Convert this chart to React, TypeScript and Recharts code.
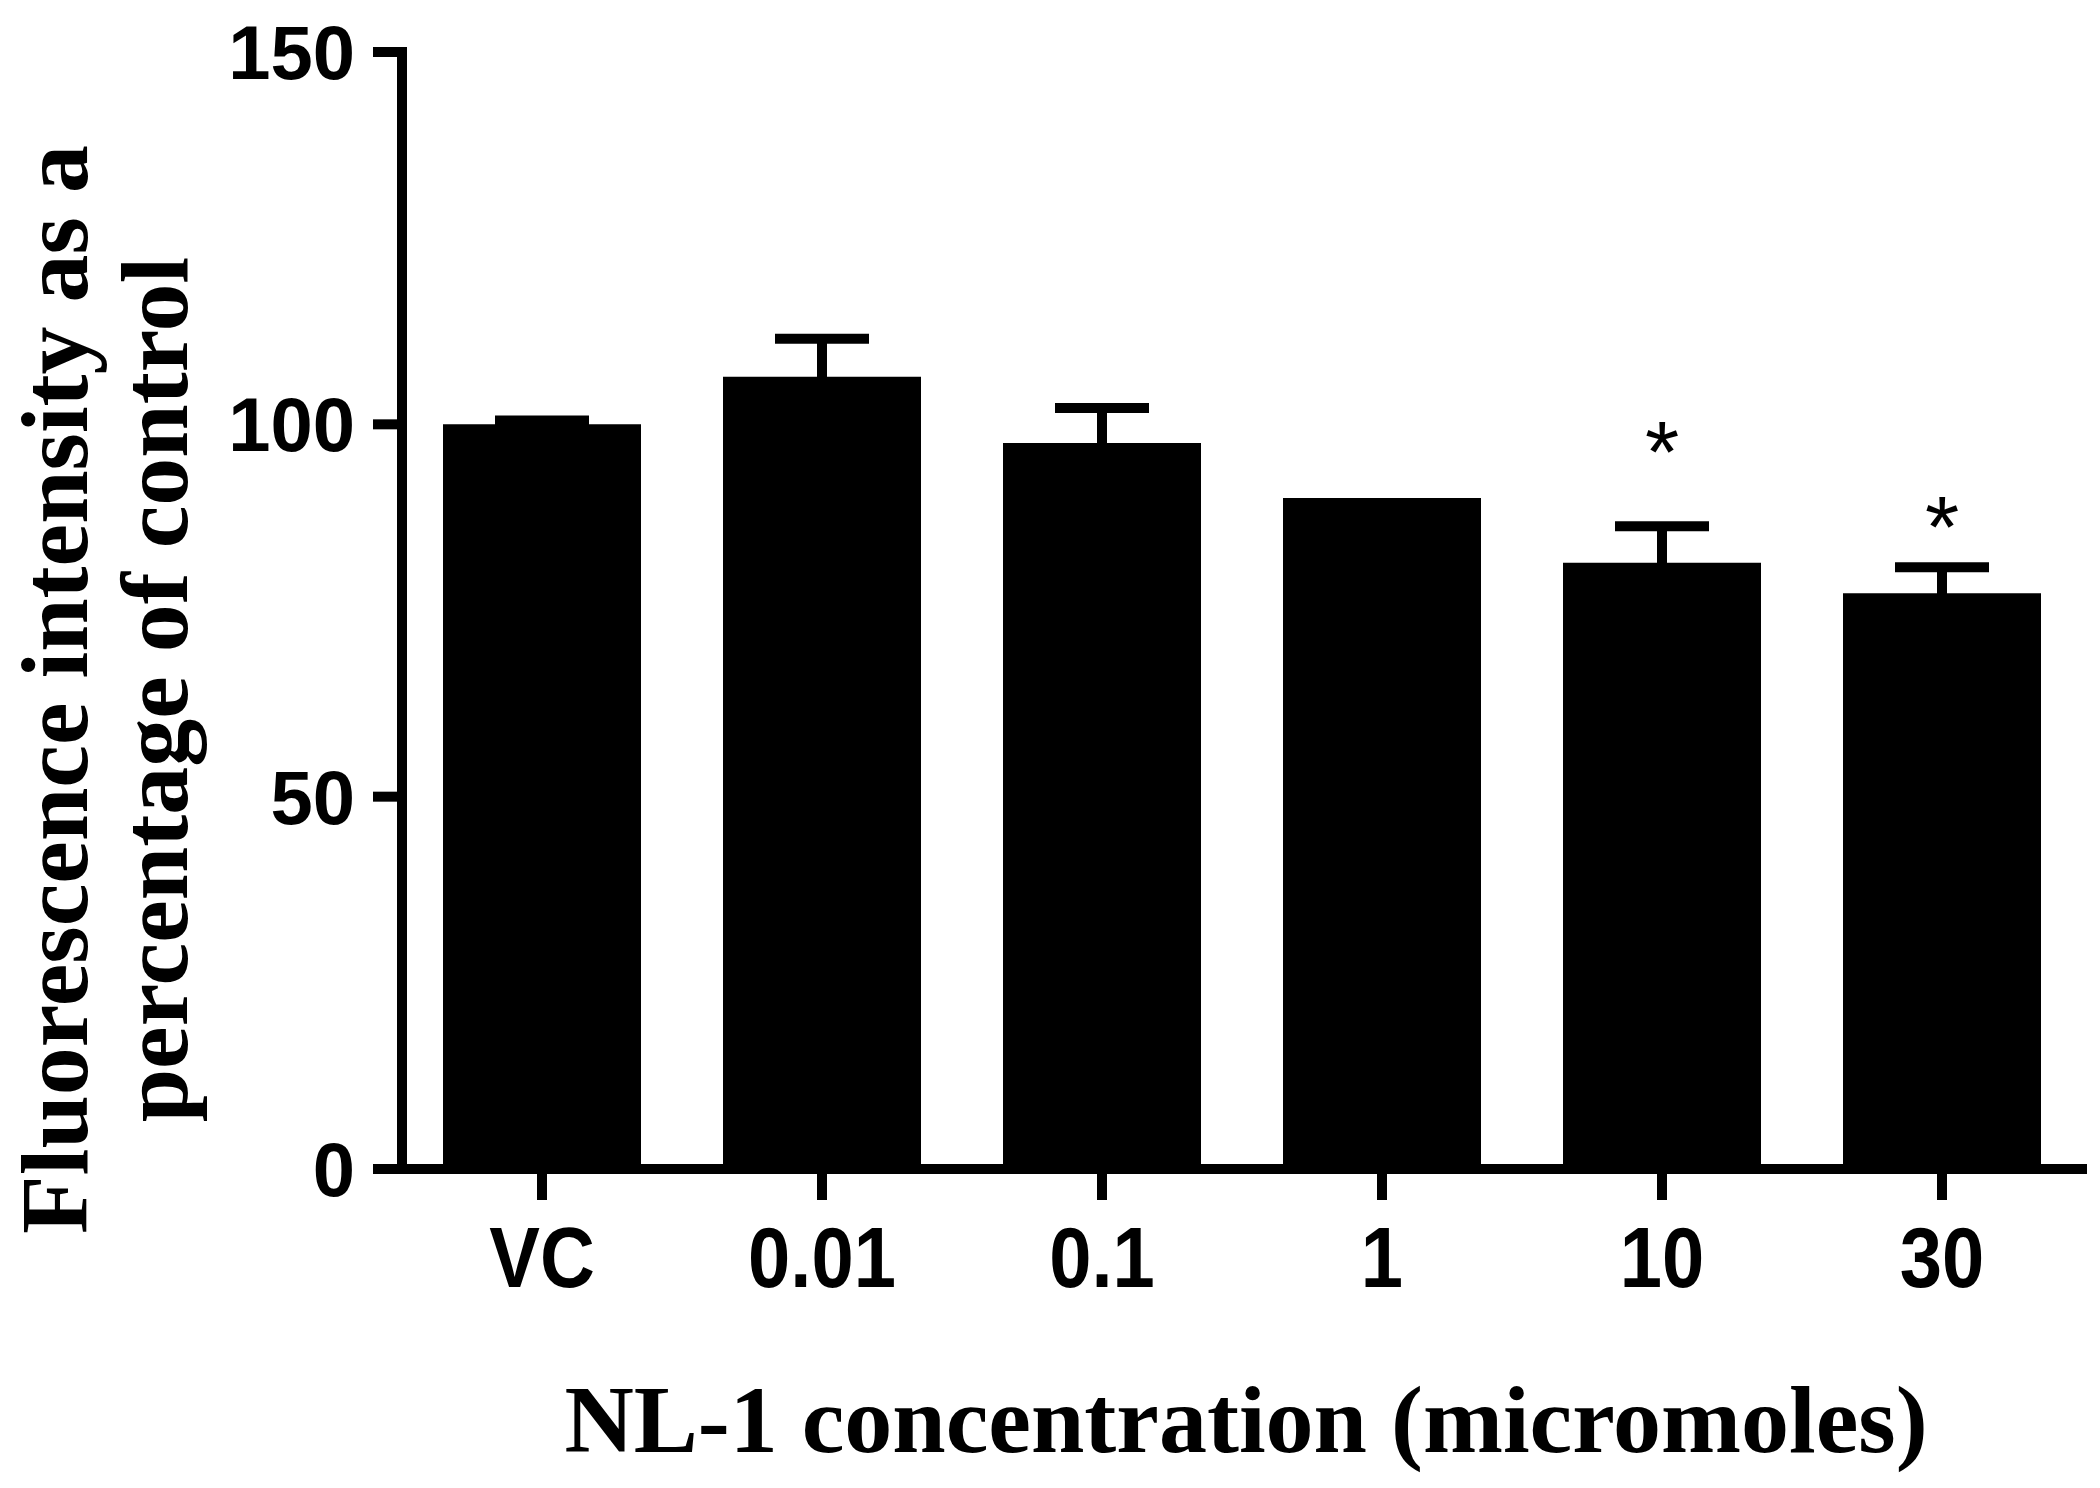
import { BarChart, Bar, XAxis, YAxis, ErrorBar, ReferenceDot, Label } from 'recharts';

/* -------------------------------------------------------------------------- */
/*  Data                                                                      */
/* -------------------------------------------------------------------------- */

const concentrations = ['VC', '0.01', '0.1', '1', '10', '30'];
const meanPercent = [100, 106.4, 97.5, 90.1, 81.4, 77.3];
const semPercent = [0.5, 5.1, 4.7, 0, 4.9, 3.5];
const yTicks = [0, 50, 100, 150];

// significance markers (asterisk height in axis units)
const starCategories = ['10', '30'];
const starLevels = [98.8, 88.8];

const rows = concentrations.map((c, i) => ({
  label: c,
  mean: meanPercent[i],
  err: semPercent[i],
}));

/* -------------------------------------------------------------------------- */
/*  Custom pieces                                                             */
/* -------------------------------------------------------------------------- */

const SANS = '"Liberation Sans", Arial, sans-serif';
const SERIF = '"Liberation Serif", "Times New Roman", serif';

function YTick({ x, y, payload }: any) {
  return (
    <text x={x} y={y + 27} textAnchor="end" fontFamily={SANS} fontWeight={700} fontSize={76} fill="#000">
      {payload.value}
    </text>
  );
}

function XTick({ x, y, payload }: any) {
  return (
    <g transform={`translate(${x},${y + 87}) scale(1,1.12)`}>
      <text x={0} y={0} textAnchor="middle" fontFamily={SANS} fontWeight={700} fontSize={76} fill="#000">
        {payload.value}
      </text>
    </g>
  );
}

function Star({ cx, cy }: any) {
  return (
    <text x={cx} y={cy + 49} textAnchor="middle" fontFamily={SANS} fontSize={88} fill="#000">
      *
    </text>
  );
}

function YTitle({ viewBox }: any) {
  const cy = viewBox.y + viewBox.height / 2 + 79;
  const x1 = viewBox.x + 87;
  const x2 = viewBox.x + 187;
  const common = { textAnchor: 'middle' as const, fontFamily: SERIF, fontWeight: 700, fontSize: 96, fill: '#000' };
  return (
    <g>
      <text {...common} x={x1} y={cy} transform={`rotate(-90, ${x1}, ${cy})`}>
        Fluorescence intensity as a
      </text>
      <text {...common} x={x2} y={cy} transform={`rotate(-90, ${x2}, ${cy})`}>
        percentage of control
      </text>
    </g>
  );
}

function XTitle({ viewBox }: any) {
  const cx = viewBox.x + viewBox.width / 2 + 4;
  const y = viewBox.y + 283;
  return (
    <text x={cx} y={y} textAnchor="middle" fontFamily={SERIF} fontWeight={700} fontSize={96} fill="#000">
      NL-1 concentration (micromoles)
    </text>
  );
}

/* -------------------------------------------------------------------------- */
/*  Chart                                                                     */
/* -------------------------------------------------------------------------- */

export default function App() {
  const axisLine = { stroke: '#000', strokeWidth: 10, strokeLinecap: 'square' as const };
  const tickLine = { stroke: '#000', strokeWidth: 10 };
  return (
    <div style={{ position: 'fixed', left: 0, top: 0, width: 2100, height: 1488, background: '#fff' }}>
      <BarChart width={2100} height={1488} data={rows} margin={{ top: 52, right: 18, bottom: 19, left: 0 }}>
        <XAxis
          dataKey="label"
          height={300}
          axisLine={axisLine}
          tickLine={tickLine}
          tickSize={31}
          tickMargin={0}
          tick={<XTick />}
          interval={0}
        >
          <Label content={<XTitle />} />
        </XAxis>
        <YAxis
          width={402}
          domain={[0, 150]}
          ticks={yTicks}
          axisLine={axisLine}
          tickLine={tickLine}
          tickSize={29}
          tickMargin={18}
          tick={<YTick />}
        >
          <Label content={<YTitle />} />
        </YAxis>
        <Bar dataKey="mean" fill="#000" barSize={198} isAnimationActive={false}>
          <ErrorBar dataKey="err" direction="y" width={47} strokeWidth={10} stroke="#000" isAnimationActive={false} />
        </Bar>
        {starCategories.map((c, i) => (
          <ReferenceDot key={c} x={c} y={starLevels[i]} r={0} shape={<Star />} ifOverflow="visible" />
        ))}
      </BarChart>
    </div>
  );
}
